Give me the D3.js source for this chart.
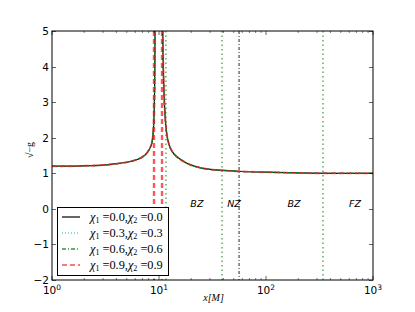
<!DOCTYPE html>
<html><head><meta charset="utf-8">
<script src="https://cdn.jsdelivr.net/npm/d3@7/dist/d3.min.js"></script>
<style>body{margin:0;background:#fff}svg{display:block}</style>
</head><body><svg id="c" width="415" height="312"></svg>
<script>
// ---- data ----
const chi1 = ["0.0","0.3","0.6","0.9"];
const xLeft  = [1,1.5,2,3,4,5,6,7,7.7,8.2,8.6,8.85,9.0,9.1,9.2];
const xRight = [10.8,10.9,11.1,11.4,11.8,12.3,12.8,13.5,14.5,15.7,17.5,20,24,30,40,60,100,200,400,1000];
const yLeft0  = [1.20,1.20,1.21,1.23,1.27,1.31,1.37,1.46,1.57,1.70,1.87,2.20,2.70,3.40,5.30];
const yLeft1  = [1.20,1.20,1.21,1.23,1.27,1.31,1.37,1.46,1.57,1.70,1.87,2.20,2.70,3.40,5.30];
const yLeft2  = [1.20,1.20,1.21,1.23,1.27,1.31,1.37,1.46,1.57,1.70,1.88,2.21,2.72,3.42,5.30];
const yLeft3  = [1.20,1.20,1.21,1.23,1.27,1.31,1.37,1.46,1.57,1.71,1.88,2.22,2.74,3.45,5.30];
const yRight0 = [5.30,4.40,3.40,2.60,2.12,1.84,1.70,1.58,1.48,1.40,1.31,1.23,1.16,1.11,1.08,1.05,1.03,1.01,1.00,1.00];
const yRight1 = [5.30,4.40,3.40,2.60,2.12,1.84,1.70,1.58,1.48,1.40,1.31,1.23,1.16,1.11,1.08,1.05,1.03,1.01,1.00,1.00];
const yRight2 = [5.30,4.42,3.42,2.62,2.13,1.85,1.70,1.58,1.48,1.40,1.31,1.23,1.16,1.11,1.08,1.05,1.03,1.01,1.00,1.00];
const yRight3 = [5.30,4.45,3.45,2.64,2.14,1.86,1.71,1.59,1.48,1.40,1.31,1.23,1.16,1.11,1.08,1.05,1.03,1.01,1.00,1.00];
const yLefts = [yLeft0,yLeft1,yLeft2,yLeft3];
const yRights = [yRight0,yRight1,yRight2,yRight3];
// vertical marker lines (x positions, owning series)
const vlineX = [8.98,10.67,11.6,38.8,341,56];
const vlineSeries = [3,3,2,2,2,0];
// zone labels
const zoneLabels = ["BZ","NZ","BZ","FZ"];
const zoneX = [22.6,50.3,183,680];
const zoneY = [0.12,0.12,0.12,0.12];
const yTicks = [-2,-1,0,1,2,3,4,5];
const xTickExp = [0,1,2,3];

// ---- layout ----
const L=52,R=373,T=31,B=280;
const svg=d3.select("#c");
const x=d3.scaleLog().domain([1,1000]).range([L,R]);
const y=d3.scaleLinear().domain([-2,5]).range([B,T]);

const styles=[
 {color:"#000",dash:null,w:1.2,op:1},
 {color:"#00bfbf",dash:"1,2",w:1.2,op:1},
 {color:"#008000",dash:"4,2,1,2",w:1.4,op:0.8},
 {color:"#ff2020",dash:"5,3",w:2,op:0.6}
];
const vstyles=[
 {color:"#000",dash:"3,2,1,2",w:1,op:0.85},
 null,
 {color:"#3a9a3a",dash:"1.5,3",w:1.6,op:0.75},
 {color:"#ff2020",dash:"5,3",w:2.4,op:0.75}
];

svg.append("defs").append("clipPath").attr("id","clip").append("rect")
  .attr("x",L).attr("y",T).attr("width",R-L).attr("height",B-T);
const g=svg.append("g").attr("clip-path","url(#clip)");

// vertical lines
vlineX.forEach((vx,i)=>{
  const s=vstyles[vlineSeries[i]];
  g.append("line").attr("x1",x(vx)).attr("x2",x(vx)).attr("y1",T).attr("y2",B)
   .attr("stroke",s.color).attr("stroke-width",s.w).attr("stroke-dasharray",s.dash)
   .attr("opacity",s.op);
});

const line=d3.line().x(d=>x(d[0])).y(d=>y(d[1])).curve(d3.curveMonotoneX);
for(let k=0;k<4;k++){
  const st=styles[k];
  [[xLeft,yLefts[k]],[xRight,yRights[k]]].forEach(([xs,ys])=>{
    g.append("path").datum(xs.map((v,i)=>[v,ys[i]])).attr("d",line)
     .attr("fill","none").attr("stroke",st.color).attr("stroke-width",st.w)
     .attr("stroke-dasharray",st.dash).attr("opacity",st.op);
  });
}

// zone labels
zoneLabels.forEach((t,i)=>{
  svg.append("text").attr("x",x(zoneX[i])).attr("y",y(zoneY[i])).attr("text-anchor","middle")
   .attr("dominant-baseline","middle").attr("font-family","DejaVu Sans").attr("font-style","italic")
   .attr("font-size",9.5).text(t);
});

// frame
svg.append("rect").attr("x",L).attr("y",T).attr("width",R-L).attr("height",B-T)
  .attr("fill","none").attr("stroke","#000").attr("stroke-width",1);

// y ticks both sides
yTicks.forEach(v=>{
  const yy=Math.round(y(v))+0.5;
  svg.append("line").attr("x1",L).attr("x2",L+4).attr("y1",yy).attr("y2",yy).attr("stroke","#000").attr("stroke-width",0.6);
  svg.append("line").attr("x1",R-4).attr("x2",R).attr("y1",yy).attr("y2",yy).attr("stroke","#000").attr("stroke-width",0.6);
  svg.append("text").attr("x",L-3).attr("y",yy).attr("text-anchor","end").attr("dominant-baseline","middle")
   .attr("font-family","DejaVu Sans").attr("font-size",10.5).text(v<0?"\u2212"+(-v):String(v));
});
// x ticks major+minor top and bottom
const minor=[];
for(let e=0;e<3;e++) for(let m=2;m<=9;m++) minor.push(m*Math.pow(10,e));
minor.forEach(v=>{
  const xx=x(v);
  svg.append("line").attr("x1",xx).attr("x2",xx).attr("y1",B).attr("y2",B-2).attr("stroke","#000").attr("stroke-width",0.5);
  svg.append("line").attr("x1",xx).attr("x2",xx).attr("y1",T).attr("y2",T+2).attr("stroke","#000").attr("stroke-width",0.5);
});
xTickExp.forEach(e=>{
  const xx=x(Math.pow(10,e));
  svg.append("line").attr("x1",xx).attr("x2",xx).attr("y1",B).attr("y2",B-4).attr("stroke","#000").attr("stroke-width",0.6);
  svg.append("line").attr("x1",xx).attr("x2",xx).attr("y1",T).attr("y2",T+4).attr("stroke","#000").attr("stroke-width",0.6);
  const t=svg.append("text").attr("x",xx).attr("y",B+14).attr("text-anchor","middle")
   .attr("font-family","DejaVu Sans").attr("font-size",10.5);
  t.append("tspan").text("10");
  t.append("tspan").attr("dy",-4).attr("font-size",7.5).text(String(e));
});

// axis labels
svg.append("text").attr("x",(L+R)/2+1).attr("y",301).attr("text-anchor","middle")
  .attr("font-family","Liberation Serif").attr("font-style","italic").attr("font-size",10).text("x[M]");
svg.append("text").attr("transform","translate(33,150) rotate(-90)").attr("text-anchor","middle")
  .attr("font-family","Liberation Serif").attr("font-size",10).text("\u221a\u2212g");

// legend
const lg=svg.append("g");
lg.append("rect").attr("x",57.5).attr("y",207.5).attr("width",111).attr("height",68)
  .attr("fill","#fff").attr("stroke","#000").attr("stroke-width",1);
for(let k=0;k<4;k++){
  const yy=217+k*16, st=styles[k];
  lg.append("line").attr("x1",62).attr("x2",80).attr("y1",yy).attr("y2",yy)
   .attr("stroke",st.color).attr("stroke-width",st.w).attr("stroke-dasharray",st.dash).attr("opacity",st.op);
  const t=lg.append("text").attr("x",90).attr("y",yy+4).attr("font-family","Liberation Serif").attr("font-size",12.3);
  t.append("tspan").attr("font-style","italic").text("\u03c7");
  t.append("tspan").attr("font-size",8).attr("dy",2).text("1");
  t.append("tspan").attr("dy",-2).text(" ="+chi1[k]+",");
  t.append("tspan").attr("font-style","italic").text("\u03c7");
  t.append("tspan").attr("font-size",8).attr("dy",2).text("2");
  t.append("tspan").attr("dy",-2).text(" ="+chi1[k]);
}
</script></body></html>
